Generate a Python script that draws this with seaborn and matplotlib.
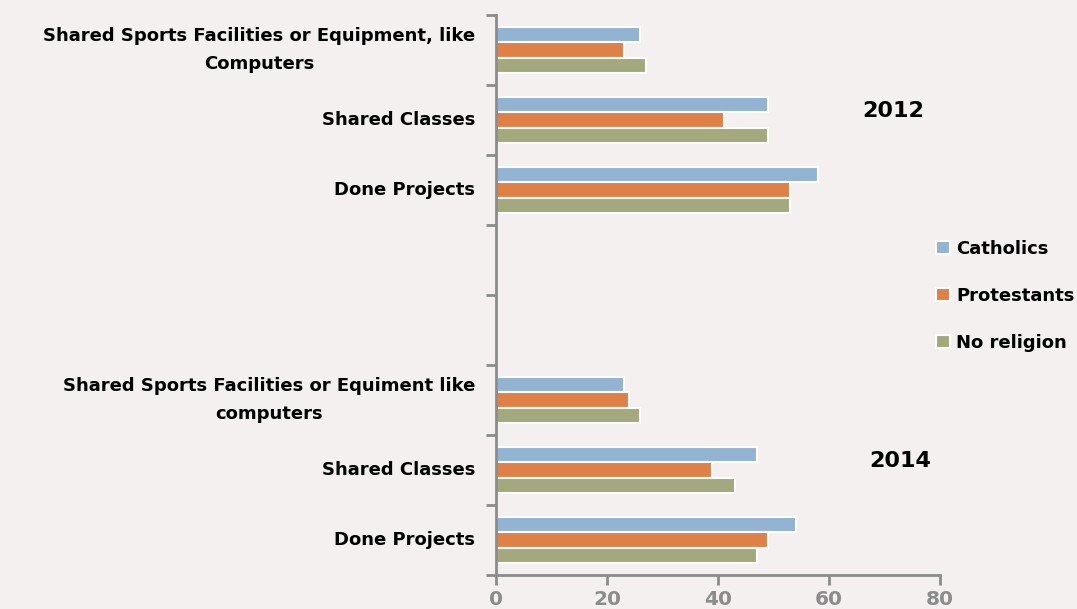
import matplotlib
matplotlib.use("Agg")
import matplotlib.pyplot as plt
import seaborn as sns
import pandas as pd
from matplotlib.ticker import FixedLocator, NullFormatter, FixedFormatter

# ---- data ----
slot_keys = ["s12a", "s12b", "s12c", "gap1", "gap2", "s14a", "s14b", "s14c"]
slot_labels = [
    "Shared Sports Facilities or Equipment, like\nComputers",
    "Shared Classes",
    "Done Projects",
    "",
    "",
    "Shared Sports Facilities or Equiment like\ncomputers",
    "Shared Classes",
    "Done Projects",
]
groups = ["Catholics", "Protestants", "No religion"]
catholics = [26, 49, 58, None, None, 23, 47, 54]
protestants = [23, 41, 53, None, None, 24, 39, 49]
no_religion = [27, 49, 53, None, None, 26, 43, 47]
year_labels = ["2012", "2014"]
x_ticks = [0, 20, 40, 60, 80]

colors = ["#93B3D3", "#DF8147", "#A4A97D"]
bg = "#F4F0EF"
grey = "#8C8C8C"

rows = []
for g, vals in zip(groups, [catholics, protestants, no_religion]):
    for k, v in zip(slot_keys, vals):
        if v is not None:
            rows.append({"slot": k, "group": g, "value": v})
df = pd.DataFrame(rows)

sns.set_style("white")
plt.rcParams["font.family"] = ["DejaVu Sans"]
plt.rcParams["font.weight"] = "bold"
plt.rcParams["text.color"] = "black"

fig = plt.figure(figsize=(10.77, 6.09), dpi=100, facecolor=bg)
ax = fig.add_axes([496 / 1077, 1 - 575 / 609, (940 - 496) / 1077, (575 - 15) / 609])
ax.set_facecolor(bg)

sns.barplot(data=df, y="slot", x="value", hue="group", order=slot_keys,
            hue_order=groups, palette=colors, orient="h", width=0.66,
            saturation=1, edgecolor="white", linewidth=1.5, ax=ax, legend=True)

ax.set_xlim(0, 80)
ax.set_ylim(len(slot_keys) - 0.5, -0.5)
ax.set_xlabel("")
ax.set_ylabel("")

# y axis: ticks at boundaries, labels at centres
ax.yaxis.set_major_locator(FixedLocator([i - 0.5 for i in range(len(slot_keys) + 1)]))
ax.yaxis.set_major_formatter(NullFormatter())
ax.yaxis.set_minor_locator(FixedLocator(list(range(len(slot_keys)))))
ax.yaxis.set_minor_formatter(FixedFormatter(slot_labels))
ax.tick_params(axis="y", which="major", left=True, length=7, width=2, color=grey, direction="out")
ax.tick_params(axis="y", which="minor", left=True, length=0, pad=15, labelsize=13, labelcolor="black")
for lab in ax.get_yticklabels(minor=True):
    lab.set_fontweight("bold")
    lab.set_multialignment("center")
    lab.set_linespacing(1.75)
    lab.set_verticalalignment("center")

ax.set_xticks(x_ticks)
ax.set_xticklabels([str(t) for t in x_ticks])
ax.tick_params(axis="x", bottom=True, length=7, width=2, color=grey, labelsize=14.5,
               labelcolor=grey, pad=4)
for lab in ax.get_xticklabels():
    lab.set_fontweight("bold")

for s in ["top", "right"]:
    ax.spines[s].set_visible(False)
for s in ["left", "bottom"]:
    ax.spines[s].set_color(grey)
    ax.spines[s].set_linewidth(2)

# year annotations
ax.text(71.5, 0.87, year_labels[0], fontsize=16, fontweight="bold", color="black",
        ha="center", va="center")
ax.text(72.8, 5.87, year_labels[1], fontsize=16, fontweight="bold", color="black",
        ha="center", va="center")

# legend
handles, labels = ax.get_legend_handles_labels()
leg = ax.legend(handles, labels, loc="center left", bbox_to_anchor=(920 / 1077, 1 - 296 / 609),
                bbox_transform=fig.transFigure, frameon=False,
                handlelength=0.75, handleheight=0.75, handletextpad=0.35, labelspacing=1.6,
                prop={"weight": "bold", "size": 13})
for t in leg.get_texts():
    t.set_color("black")

fig.savefig("out.png", dpi=100, facecolor=bg)
